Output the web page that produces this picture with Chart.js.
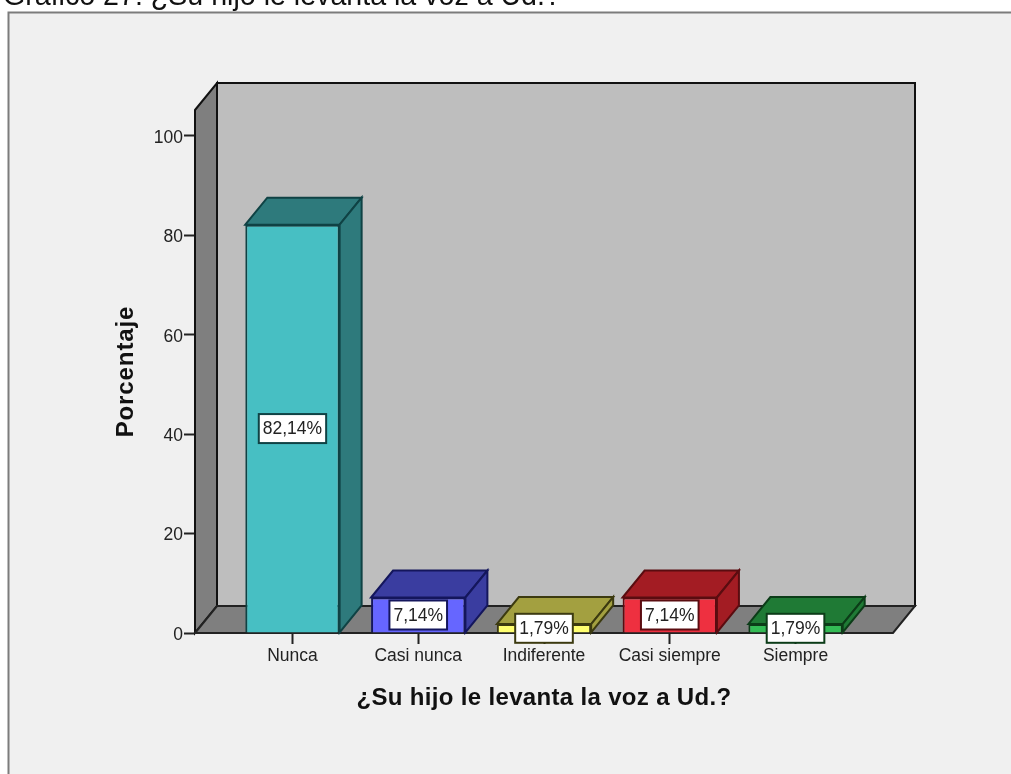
<!DOCTYPE html>
<html>
<head>
<meta charset="utf-8">
<style>html,body{margin:0;padding:0;background:#fff;overflow:hidden}canvas{display:block}</style>
<script src="https://cdn.jsdelivr.net/npm/chart.js@4/dist/chart.umd.js"></script>
</head>
<body>
<canvas id="c" width="1011" height="774"></canvas>
<script>
const categories = ["Nunca", "Casi nunca", "Indiferente", "Casi siempre", "Siempre"];
const percentages = [82.14, 7.14, 1.79, 7.14, 1.79];
const yTicks = [0, 20, 40, 60, 80, 100];
const frontColors = ["#47bfc3", "#6666ff", "#ffff70", "#ee3040", "#33bb55"];
const shadeColors = ["#2e7a7c", "#3a3da0", "#a3a040", "#a31c23", "#1f7a35"];
const edgeColors = ["#0f4244", "#14165c", "#3c3a10", "#5a0c10", "#0c3c18"];
const chartTitle = "Gráfico 27: ¿Su hijo le levanta la voz a Ud.?";
const xTitle = "¿Su hijo le levanta la voz a Ud.?";
const yTitle = "Porcentaje";

const DX = 22, DY = 27;
const FONT = "'Liberation Sans', Arial, sans-serif";

function poly(ctx, pts, fill, stroke, lw) {
  ctx.beginPath();
  pts.forEach((p, i) => i ? ctx.lineTo(p[0], p[1]) : ctx.moveTo(p[0], p[1]));
  ctx.closePath();
  ctx.fillStyle = fill; ctx.fill();
  ctx.strokeStyle = stroke; ctx.lineWidth = lw; ctx.lineJoin = "miter"; ctx.stroke();
}

function spaceTitle(scale, spacing) {
  const draw = Object.getPrototypeOf(scale).drawTitle;
  scale.drawTitle = function () {
    scale.ctx.letterSpacing = spacing;
    draw.call(scale);
    scale.ctx.letterSpacing = "0px";
  };
}

const frame3d = {
  id: "frame3d",
  afterLayout(chart) {
    spaceTitle(chart.scales.x, "0.33px");
    spaceTitle(chart.scales.y, "0.9px");
  },
  beforeDraw(chart) {
    const ctx = chart.ctx;
    ctx.save();
    ctx.fillStyle = "#f0f0f0";
    ctx.fillRect(8, 12, 1003, 762);
    ctx.strokeStyle = "#7c7c7c"; ctx.lineWidth = 2;
    ctx.beginPath(); ctx.moveTo(8.5, 774); ctx.lineTo(8.5, 12.5); ctx.lineTo(1011, 12.5); ctx.stroke();
    ctx.fillStyle = "#111";
    ctx.font = "28.6px " + FONT;
    ctx.textAlign = "left"; ctx.textBaseline = "alphabetic";
    ctx.fillText(chartTitle, 3, 5);
    ctx.restore();
  },
  beforeDatasetsDraw(chart) {
    const ctx = chart.ctx, a = chart.chartArea;
    ctx.save();
    poly(ctx, [[a.left + DX, a.top - DY], [a.right + DX, a.top - DY], [a.right + DX, a.bottom - DY], [a.left + DX, a.bottom - DY]], "#bebebe", "#111", 2);
    poly(ctx, [[a.left, a.top], [a.left + DX, a.top - DY], [a.left + DX, a.bottom - DY], [a.left, a.bottom]], "#7f7f7f", "#111", 2);
    poly(ctx, [[a.left, a.bottom], [a.left + DX, a.bottom - DY], [a.right + DX, a.bottom - DY], [a.right, a.bottom]], "#7f7f7f", "#222", 2);
    ctx.restore();
  },
  afterDatasetsDraw(chart) {
    const ctx = chart.ctx, bars = chart.getDatasetMeta(0).data;
    ctx.save();
    bars.forEach((bar, i) => {
      const p = bar.getProps(["x", "y", "base", "width"], true);
      const l = p.x - p.width / 2, r = p.x + p.width / 2;
      poly(ctx, [[l, p.y], [l + DX, p.y - DY], [r + DX, p.y - DY], [r, p.y]], shadeColors[i], edgeColors[i], 2);
      poly(ctx, [[r, p.y], [r + DX, p.y - DY], [r + DX, p.base - DY], [r, p.base]], shadeColors[i], edgeColors[i], 2);
    });
    ctx.font = "17.5px " + FONT;
    ctx.textAlign = "center"; ctx.textBaseline = "middle";
    bars.forEach((bar, i) => {
      const p = bar.getProps(["x", "y", "base"], true);
      const text = percentages[i].toFixed(2).replace(".", ",") + "%";
      const w = ctx.measureText(text).width + 8, h = 29;
      const cx = p.x, cy = (p.y + p.base) / 2;
      ctx.fillStyle = "#fff";
      ctx.fillRect(cx - w / 2, cy - h / 2, w, h);
      ctx.strokeStyle = edgeColors[i]; ctx.lineWidth = 2;
      ctx.strokeRect(cx - w / 2, cy - h / 2, w, h);
      ctx.fillStyle = "#222";
      ctx.fillText(text, cx, cy + 1);
    });
    ctx.restore();
  }
};

new Chart(document.getElementById("c"), {
  type: "bar",
  plugins: [frame3d],
  data: {
    datasets: [{
      data: percentages.map((v, i) => ({ x: i, y: v })),
      backgroundColor: frontColors,
      borderColor: edgeColors,
      borderWidth: 2,
      barPercentage: 0.75,
      categoryPercentage: 1
    }]
  },
  options: {
    responsive: false,
    animation: false,
    layout: { padding: { left: 112, right: 118, top: 110, bottom: 61 } },
    plugins: { legend: { display: false }, tooltip: { enabled: false } },
    scales: {
      x: {
        type: "linear",
        offset: false,
        min: -0.775, max: 4.775,
        afterBuildTicks: s => { s.ticks = categories.map((c, i) => ({ value: i })); },
        afterFit: s => { s.height = 80; },
        grid: { offset: false, drawOnChartArea: false, drawTicks: true, tickLength: 11, tickColor: "#222", tickWidth: 2 },
        border: { display: false },
        ticks: {
          autoSkip: false, maxRotation: 0, minRotation: 0, padding: 2, color: "#222",
          font: { family: FONT, size: 17.5 },
          callback: v => categories[v]
        },
        title: { display: true, text: xTitle, color: "#111", padding: 0, font: { family: FONT, size: 24, weight: "bold" } }
      },
      y: {
        min: 0, max: 105.2,
        afterBuildTicks: s => { s.ticks = yTicks.map(v => ({ value: v })); },
        afterFit: s => { s.width = 83; },
        grid: { drawOnChartArea: false, drawTicks: true, tickLength: 11, tickColor: "#222", tickWidth: 2 },
        border: { display: false },
        ticks: { padding: 1, labelOffset: 2, color: "#222", font: { family: FONT, size: 17.5 } },
        title: { display: true, text: yTitle, color: "#111", padding: 0, font: { family: FONT, size: 24, weight: "bold" } }
      }
    }
  }
});
</script>
</body>
</html>
